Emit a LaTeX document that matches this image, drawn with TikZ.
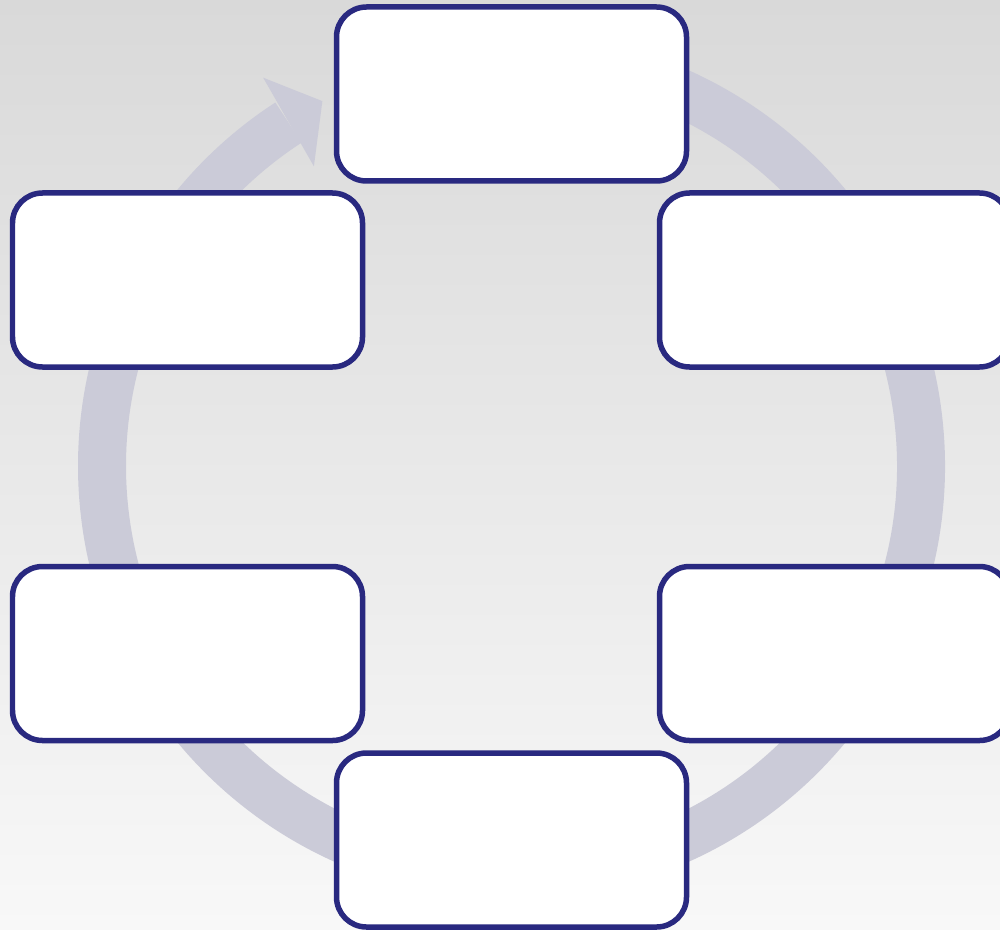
\documentclass[tikz,border=0pt]{standalone}
\usepackage[dvipsnames]{xcolor}
\usepackage{tikz}
\usetikzlibrary{arrows.meta}

\definecolor{boxnavy}{RGB}{41,41,128}
\definecolor{ringgrey}{RGB}{203,203,216}
\definecolor{bgtop}{RGB}{217,217,217}
\definecolor{bgbottom}{RGB}{248,248,248}

\begin{document}
\begin{tikzpicture}[
  stagebox/.style={draw=boxnavy,line width=0.055cm,fill=white,rounded corners=0.3cm,
    minimum width=3.5cm,minimum height=1.74cm}]
  \useasboundingbox (0,0) rectangle (10,9.29);
  \shade[top color=bgtop,bottom color=bgbottom] (0,0) rectangle (10,9.29);
  \coordinate (C) at (5.115,4.63);
  % ring behind the boxes, running clockwise
  \draw[ringgrey,line width=0.48cm] ([shift={(95:4.095)}]C)
    arc[start angle=95,end angle=-237,radius=4.095];
  \fill[ringgrey] ([shift={(122.6:4.61)}]C) -- ([shift={(117.4:4.11)}]C)
    -- ([shift={(123.4:3.59)}]C) -- cycle;
  \node[stagebox] (top) at (5.115,8.35) {};
  \node[stagebox] (upright) at (8.345,6.49) {};
  \node[stagebox] (lowright) at (8.345,2.755) {};
  \node[stagebox] (bottom) at (5.115,0.89) {};
  \node[stagebox] (lowleft) at (1.875,2.755) {};
  \node[stagebox] (upleft) at (1.875,6.49) {};
\end{tikzpicture}
\end{document}
